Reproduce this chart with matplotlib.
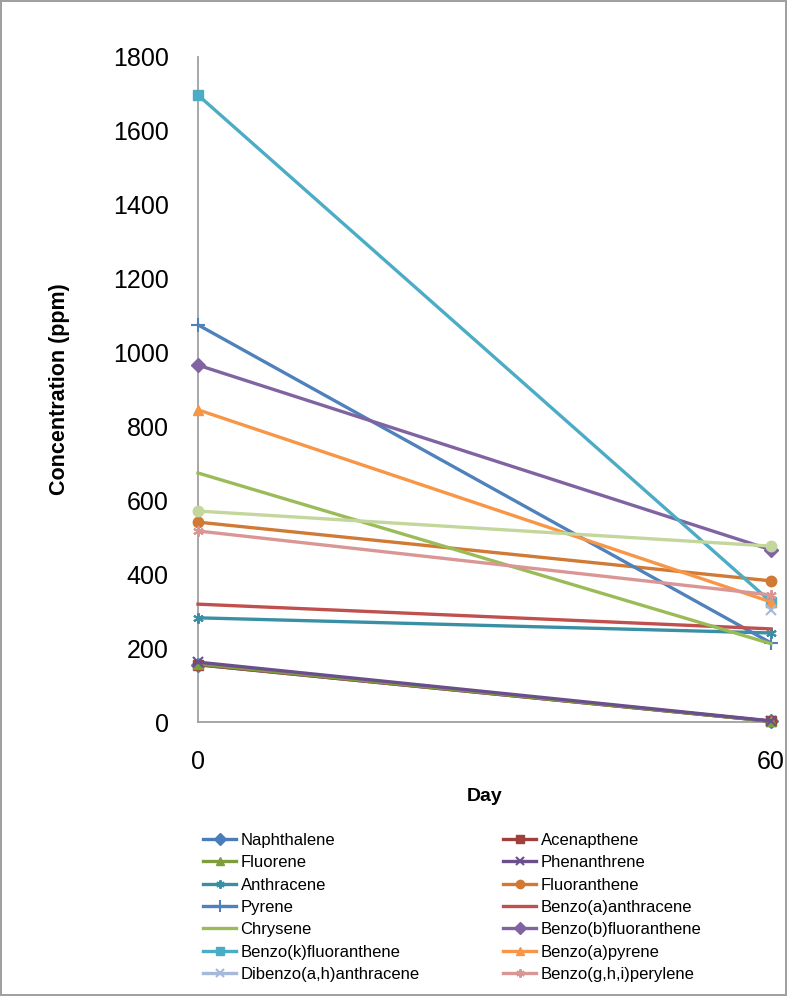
import matplotlib
matplotlib.use("Agg")
import matplotlib.pyplot as plt
import numpy as np

plt.rcParams['font.family'] = ['Liberation Sans', 'DejaVu Sans']

days = [0, 60]
names = ["Naphthalene", "Acenapthene", "Fluorene", "Phenanthrene", "Anthracene",
         "Fluoranthene", "Pyrene", "Benzo(a)anthracene", "Chrysene",
         "Benzo(b)fluoranthene", "Benzo(k)fluoranthene", "Benzo(a)pyrene",
         "Dibenzo(a,h)anthracene", "Benzo(g,h,i)perylene", "Indeno(1,2,3-cd)pyrene"]
naphthalene = [155, 2]
acenapthene = [155, 2]
fluorene = [157, 2]
phenanthrene = [162, 3]
anthracene = [282, 241]
fluoranthene = [541, 382]
pyrene = [1075, 214]
benzo_a_anthracene = [319, 252]
chrysene = [674, 212]
benzo_b_fluoranthene = [966, 466]
benzo_k_fluoranthene = [1697, 325]
benzo_a_pyrene = [845, 325]
dibenzo_ah_anthracene = [np.nan, 303]
benzo_ghi_perylene = [517, 344]
indeno_pyrene = [571, 476]

series = [naphthalene, acenapthene, fluorene, phenanthrene, anthracene, fluoranthene,
          pyrene, benzo_a_anthracene, chrysene, benzo_b_fluoranthene,
          benzo_k_fluoranthene, benzo_a_pyrene, dibenzo_ah_anthracene,
          benzo_ghi_perylene, indeno_pyrene]
colors = ["#4A7EBB", "#A0403D", "#7E9E3E", "#6A4F8C", "#3A8FA5", "#D07A35",
          "#4F81BD", "#C0504D", "#9BBB59", "#8064A2", "#4BACC6", "#F79646",
          "#A5B9DB", "#D99694", "#C3D69B"]
markers = ["D", "s", "^", "x", (6, 2, 0), "o", "+", None, None, "D", "s", "^",
           "x", (6, 2, 0), "o"]

fig = plt.figure(figsize=(7.87, 9.96), dpi=100)
fig.patch.set_edgecolor("#a0a0a0")
fig.patch.set_linewidth(1.5)
ax = fig.add_axes([198/787, 1-722/996, (771-198)/787, (722-57)/996])

handles = []
for i, (name, vals) in enumerate(zip(names, series)):
    m = markers[i]
    ms = 7.5
    mew = 1.5 if m in ("x", "+", (6, 2, 0)) else 1
    if m == "+":
        ms = 10
    h, = ax.plot(days, vals, color=colors[i], lw=2.4, marker=m, markersize=ms,
                 markeredgewidth=mew, markerfacecolor=colors[i],
                 markeredgecolor=colors[i], clip_on=False, zorder=3 + i * 0.01)
    handles.append(h)

ax.set_xlim(0, 60)
ax.set_ylim(0, 1800)
ax.set_yticks(range(0, 1801, 200))
ax.set_xticks(days)
ax.tick_params(axis='both', labelsize=18, length=0, colors="#000000")
ax.tick_params(axis='y', pad=21)
ax.tick_params(axis='x', pad=20)
for s in ["top", "right"]:
    ax.spines[s].set_visible(False)
for s in ["left", "bottom"]:
    ax.spines[s].set_color("#a0a0a0")
    ax.spines[s].set_linewidth(1.3)
ax.set_ylabel("Concentration (ppm)", fontsize=15.5, fontweight="bold", labelpad=31)
ax.set_xlabel("Day", fontsize=14, fontweight="bold", labelpad=10)

left_idx = [0, 2, 4, 6, 8, 10, 12]
right_idx = [1, 3, 5, 7, 9, 11, 13]
for idx, x0 in ((left_idx, 203/787), (right_idx, 503/787)):
    leg = fig.legend([handles[i] for i in idx], [names[i] for i in idx],
                     loc="upper left", bbox_to_anchor=(x0, 1-833/996),
                     frameon=False, fontsize=12, handlelength=2.0,
                     handletextpad=0.25, labelspacing=0.44, markerscale=0.8,
                     borderaxespad=0, borderpad=0)

fig.savefig("out.png", dpi=100)
